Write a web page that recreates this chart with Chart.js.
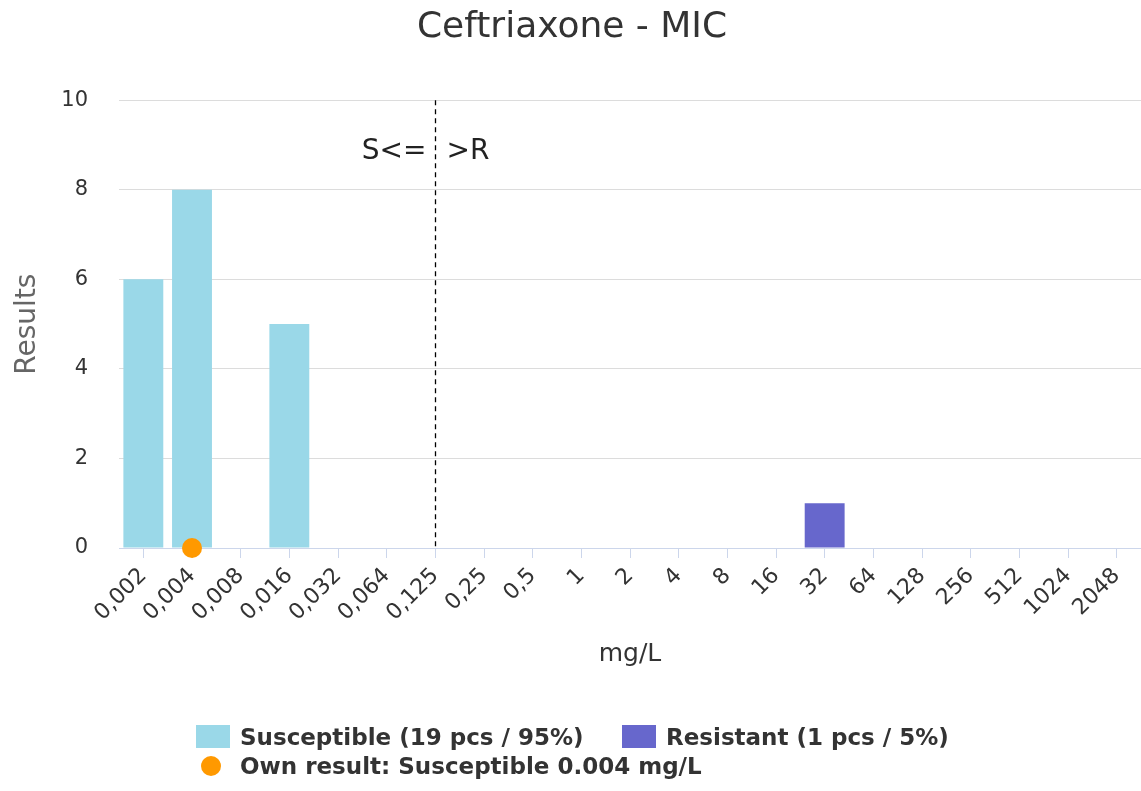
<!DOCTYPE html>
<html>
<head>
<meta charset="utf-8">
<script src="https://cdn.jsdelivr.net/npm/chart.js@4/dist/chart.umd.min.js"></script>
<style>
  html, body { margin: 0; padding: 0; background: #fff; }
  #wrap { position: relative; width: 1141px; height: 791px; overflow: hidden; }
  #legend { position: absolute; left: 0; top: 0; width: 1141px; height: 791px; pointer-events: none;
            font-family: "DejaVu Sans", sans-serif; font-weight: bold; font-size: 23px; color: #333; }
  .item { position: absolute; white-space: nowrap; line-height: 24px; }
  .sw { position: absolute; }
</style>
</head>
<body>
<div id="wrap">
  <canvas id="c" width="1141" height="791"></canvas>
  <div id="legend"></div>
</div>
<script>
// ---- data ----
const categories = ['0,002','0,004','0,008','0,016','0,032','0,064','0,125','0,25','0,5','1','2','4','8','16','32','64','128','256','512','1024','2048'];
const susceptibleValues = [6, 8, 0, 5, 0, 0, 0, 0, 0, 0, 0, 0, 0, 0, 0, 0, 0, 0, 0, 0, 0];
const resistantValues   = [0, 0, 0, 0, 0, 0, 0, 0, 0, 0, 0, 0, 0, 0, 1, 0, 0, 0, 0, 0, 0];
const ownResultCategory = '0,004';
const ownResultValue = 0;
const breakpointCategory = '0,125';
const yTickValues = [0, 2, 4, 6, 8, 10];
const seriesNames = ['Susceptible (19 pcs / 95%)', 'Resistant (1 pcs / 5%)', 'Own result: Susceptible 0.004 mg/L'];
const chartTitle = 'Ceftriaxone - MIC';
const xTitle = 'mg/L';
const yTitle = 'Results';
const leftLabel = 'S<=';
const rightLabel = '>R';

const COL_S = '#9ad8e8';
const COL_R = '#6767cc';
const COL_O = '#ff9900';
const FONT = '"DejaVu Sans", sans-serif';

const ownData = categories.map(c => c === ownResultCategory ? ownResultValue : null);

const breakpointPlugin = {
  id: 'breakpoint',
  afterDatasetsDraw(chart) {
    const {ctx, chartArea, scales} = chart;
    const x = Math.round(scales.x.getPixelForValue(categories.indexOf(breakpointCategory))) + 0.5;
    ctx.save();
    ctx.strokeStyle = '#000';
    ctx.lineWidth = 1.3;
    ctx.setLineDash([5, 4]);
    ctx.beginPath();
    ctx.moveTo(x, chartArea.top);
    ctx.lineTo(x, chartArea.bottom);
    ctx.stroke();
    ctx.setLineDash([]);
    ctx.fillStyle = '#222';
    ctx.font = '28px ' + FONT;
    ctx.textBaseline = 'middle';
    const ty = scales.y.getPixelForValue(8.85);
    ctx.textAlign = 'right';
    ctx.fillText(leftLabel, x - 9, ty);
    ctx.textAlign = 'left';
    ctx.fillText(rightLabel, x + 11, ty);
    ctx.restore();
  }
};

new Chart(document.getElementById('c'), {
  data: {
    labels: categories,
    datasets: [
      { type: 'line', label: seriesNames[2], data: ownData, showLine: false,
        pointRadius: 10, pointHoverRadius: 10, pointBackgroundColor: COL_O, pointBorderWidth: 0,
        borderColor: COL_O, clip: false },
      { type: 'bar', label: seriesNames[0], data: susceptibleValues, backgroundColor: COL_S,
        borderWidth: 0, grouped: false, barPercentage: 0.82, categoryPercentage: 1 },
      { type: 'bar', label: seriesNames[1], data: resistantValues, backgroundColor: COL_R,
        borderWidth: 0, grouped: false, barPercentage: 0.82, categoryPercentage: 1 }
    ]
  },
  options: {
    responsive: false,
    animation: false,
    devicePixelRatio: 1,
    layout: { autoPadding: false, padding: { left: 0, right: -3, top: 0, bottom: 118 } },
    plugins: {
      legend: { display: false },
      tooltip: { enabled: false },
      title: { display: true, text: chartTitle, color: '#333',
               font: { family: FONT, size: 36, weight: 'normal' },
               padding: { top: 6, bottom: 51 } }
    },
    scales: {
      x: {
        type: 'category',
        offset: true,
        grid: { display: true, drawOnChartArea: false, drawTicks: true, tickLength: 10,
                color: '#ccd6eb', offset: false },
        border: { display: true, color: '#ccd6eb', width: 1 },
        ticks: { autoSkip: false, minRotation: 45, maxRotation: 45, color: '#333',
                 font: { family: FONT, size: 22 }, padding: 5 },
        title: { display: true, text: xTitle, color: '#333',
                 font: { family: FONT, size: 25 }, padding: { top: 0, bottom: 4 } },
        afterFit(scale) { scale.height = 125; scale.paddingLeft = 0; scale.paddingRight = 0; }
      },
      y: {
        min: 0, max: 10,
        afterBuildTicks(scale) { scale.ticks = yTickValues.map(v => ({ value: v })); },
        grid: { color: '#dcdcdc', drawTicks: false },
        border: { display: false },
        ticks: { color: '#333', font: { family: FONT, size: 21 }, padding: 31 },
        title: { display: true, text: yTitle, color: '#666',
                 font: { family: FONT, size: 28 }, padding: { top: 11, bottom: 0 } },
        afterFit(scale) { scale.width = 119; }
      }
    }
  },
  plugins: [breakpointPlugin]
});

// ---- HTML legend ----
const lg = document.getElementById('legend');
function addItem(x, y, text, swatchHtml) {
  const d = document.createElement('div');
  d.className = 'item';
  d.style.left = x + 'px';
  d.style.top = y + 'px';
  d.textContent = text;
  lg.appendChild(d);
  lg.insertAdjacentHTML('beforeend', swatchHtml);
}
addItem(240, 725, seriesNames[0], '<div class="sw" style="left:196px;top:725px;width:34px;height:23px;background:' + COL_S + '"></div>');
addItem(666, 725, seriesNames[1], '<div class="sw" style="left:622px;top:725px;width:34px;height:23px;background:' + COL_R + '"></div>');
addItem(240, 754, seriesNames[2], '<div class="sw" style="left:201px;top:756px;width:20px;height:20px;border-radius:50%;background:' + COL_O + '"></div>');
</script>
</body>
</html>
